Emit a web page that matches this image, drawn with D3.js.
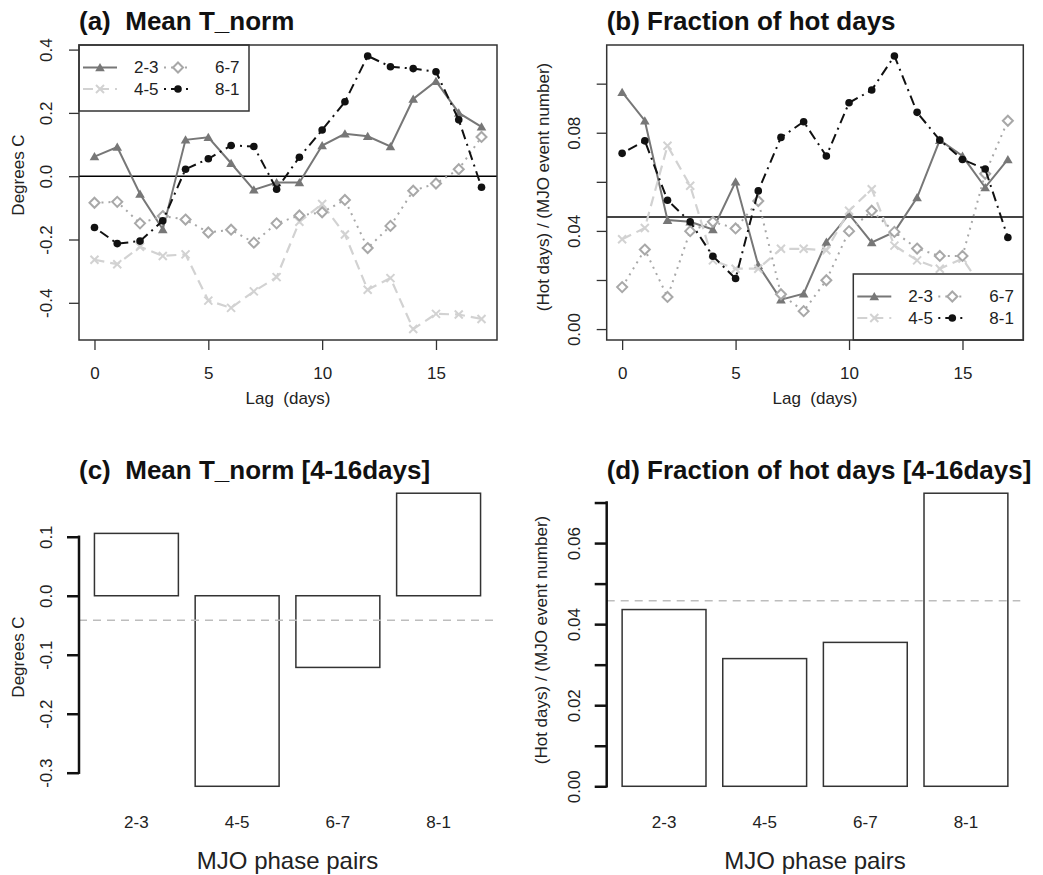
<!DOCTYPE html>
<html>
<head>
<meta charset="utf-8">
<script src="https://cdn.jsdelivr.net/npm/d3@7"></script>
<style>
  body { margin: 0; background: #fff; }
  svg text { font-family: "Liberation Sans", Arial, sans-serif; fill: #222; }
</style>
</head>
<body>
<svg id="fig"></svg>
<script>
// lag axis and MJO phase pairs
const lags = [0, 1, 2, 3, 4, 5, 6, 7, 8, 9, 10, 11, 12, 13, 14, 15, 16, 17];
const pairs = ["2-3", "4-5", "6-7", "8-1"];

// (a) mean T_norm per lag
const meanT_23 = [0.062, 0.092, -0.056, -0.168, 0.115, 0.123, 0.041, -0.043, -0.020, -0.020, 0.097, 0.134, 0.126, 0.094, 0.244, 0.300, 0.200, 0.156];
const meanT_45 = [-0.264, -0.278, -0.223, -0.252, -0.247, -0.393, -0.416, -0.364, -0.319, -0.144, -0.088, -0.184, -0.359, -0.322, -0.483, -0.435, -0.437, -0.451];
const meanT_67 = [-0.084, -0.081, -0.149, -0.126, -0.137, -0.178, -0.169, -0.210, -0.149, -0.124, -0.114, -0.075, -0.227, -0.157, -0.046, -0.023, 0.022, 0.124];
const meanT_81 = [-0.162, -0.213, -0.205, -0.141, 0.022, 0.055, 0.097, 0.094, -0.041, 0.060, 0.146, 0.235, 0.380, 0.346, 0.340, 0.330, 0.178, -0.035];

// (b) fraction of hot days per lag
const hot_23 = [0.0965, 0.0849, 0.0444, 0.0437, 0.0406, 0.0600, 0.0260, 0.0120, 0.0144, 0.0355, 0.0468, 0.0353, 0.0396, 0.0536, 0.0770, 0.0705, 0.0577, 0.0691];
const hot_45 = [0.0366, 0.0412, 0.0747, 0.0584, 0.0280, 0.0246, 0.0246, 0.0327, 0.0327, 0.0321, 0.0482, 0.0570, 0.0340, 0.0280, 0.0246, 0.0287, 0.0150, 0.0080];
const hot_67 = [0.0171, 0.0324, 0.0131, 0.0399, 0.0437, 0.0410, 0.0522, 0.0142, 0.0073, 0.0199, 0.0399, 0.0482, 0.0396, 0.0328, 0.0298, 0.0298, 0.0633, 0.0849];
const hot_81 = [0.0716, 0.0767, 0.0525, 0.0437, 0.0297, 0.0206, 0.0563, 0.0781, 0.0845, 0.0705, 0.0922, 0.0974, 0.1113, 0.0883, 0.0770, 0.0691, 0.0652, 0.0373];
const hotClimo = 0.0457;

// (c), (d) averages over lags 4-16
const barMeanT = [0.1057, -0.323, -0.1215, 0.1738];
const barHot = [0.0436, 0.0315, 0.0355, 0.0723];
const refMeanT = -0.0417;
const refHot = 0.0458;

const svg = d3.select("#fig").attr("width", 1043).attr("height", 875);

const styles = {
  "2-3": { color: "#777777", dash: null, width: 2, shape: "tri" },
  "4-5": { color: "#d2d2d2", dash: "10,6", width: 2.2, shape: "x" },
  "6-7": { color: "#a8a8a8", dash: "2,5", width: 2, shape: "diamond" },
  "8-1": { color: "#111111", dash: "2,5,10,5", width: 2, shape: "dot" }
};

// R style range padding (4%)
function padded(lo, hi) {
  const e = (hi - lo) * 0.04;
  return [lo - e, hi + e];
}

function marker(g, shape, color, x, y) {
  if (shape === "tri") {
    g.append("path").attr("d", d3.symbol(d3.symbolTriangle, 40)())
      .attr("transform", `translate(${x},${y + 1})`).attr("fill", color);
  } else if (shape === "x") {
    g.append("path").attr("d", "M-4,-4L4,4M-4,4L4,-4")
      .attr("transform", `translate(${x},${y})`)
      .attr("stroke", color).attr("stroke-width", 2).attr("fill", "none");
  } else if (shape === "diamond") {
    g.append("path").attr("d", "M0,-5L5,0L0,5L-5,0Z")
      .attr("transform", `translate(${x},${y})`)
      .attr("stroke", color).attr("stroke-width", 2).attr("fill", "#fff");
  } else {
    g.append("circle").attr("cx", x).attr("cy", y).attr("r", 3.8).attr("fill", color);
  }
}

function title(txt, x, y) {
  svg.append("text").attr("x", x).attr("y", y)
    .style("font-size", "26px").style("font-weight", "bold").style("fill", "#111")
    .style("white-space", "pre").text(txt);
}

function yLabel(txt, x, y) {
  svg.append("text").attr("transform", `translate(${x},${y}) rotate(-90)`)
    .attr("text-anchor", "middle").attr("dy", "0.35em")
    .style("font-size", "17px").text(txt);
}

function styleYAxis(g, off) {
  g.attr("color", "#333");
  g.select(".domain").remove();
  g.selectAll(".tick line").attr("stroke-width", 1.3);
  g.selectAll(".tick text")
    .attr("transform", "rotate(-90)")
    .attr("x", 0).attr("y", -off).attr("dy", "0.35em")
    .attr("text-anchor", "middle")
    .style("font-size", "17px");
}

function legend(g, x0, y0) {
  const box = g.append("g").attr("transform", `translate(${x0},${y0})`);
  box.append("rect").attr("width", 170).attr("height", 66)
    .attr("fill", "#fff").attr("stroke", "#333").attr("stroke-width", 1.5);
  const cols = [[4, 38, 55], [85, 113, 136]];
  const order = [["2-3", "4-5"], ["6-7", "8-1"]];
  order.forEach((col, ci) => {
    col.forEach((p, ri) => {
      const s = styles[p];
      const yy = 22.5 + ri * 21.5;
      const [a, b, t] = cols[ci];
      box.append("line").attr("x1", a).attr("x2", b).attr("y1", yy).attr("y2", yy)
        .attr("stroke", s.color).attr("stroke-width", s.width)
        .attr("stroke-dasharray", s.dash);
      marker(box, s.shape, s.color, (a + b) / 2, yy);
      box.append("text").attr("x", t).attr("y", yy).attr("dy", "0.35em")
        .style("font-size", "17px").text(p);
    });
  });
}

function linePanel(p, series, yTicks, yFmt, hline, hColor, legendPos, tl, yl) {
  const x = d3.scaleLinear().domain(padded(0, 17)).range([p.left, p.right]);
  const all = series.flat();
  const lo = p.zeroMin ? 0 : d3.min(all);
  const y = d3.scaleLinear().domain(padded(lo, d3.max(all))).range([p.bottom, p.top]);

  const g = svg.append("g");
  const line = d3.line().x((d, i) => x(lags[i])).y(d => y(d));

  g.append("line").attr("x1", p.left).attr("x2", p.right)
    .attr("y1", y(hline)).attr("y2", y(hline))
    .attr("stroke", hColor).attr("stroke-width", hColor === "#000" ? 1.4 : 2);

  pairs.forEach((pr, k) => {
    const s = styles[pr];
    g.append("path").datum(series[k]).attr("d", line)
      .attr("fill", "none").attr("stroke", s.color).attr("stroke-width", s.width)
      .attr("stroke-dasharray", s.dash);
    series[k].forEach((v, i) => marker(g, s.shape, s.color, x(lags[i]), y(v)));
  });

  legend(g, legendPos[0], legendPos[1]);

  g.append("rect").attr("x", p.left).attr("y", p.top)
    .attr("width", p.right - p.left).attr("height", p.bottom - p.top)
    .attr("fill", "none").attr("stroke", "#333").attr("stroke-width", 1.5);

  svg.append("g").attr("transform", `translate(${p.left},0)`)
    .call(d3.axisLeft(y).tickValues(yTicks).tickSize(10).tickFormat(yFmt))
    .call(ax => styleYAxis(ax, 33));

  svg.append("g").attr("transform", `translate(0,${p.bottom})`)
    .call(d3.axisBottom(x).tickValues([0, 5, 10, 15]).tickSize(10))
    .call(ax => {
      ax.attr("color", "#333");
      ax.select(".domain").remove();
      ax.selectAll(".tick line").attr("stroke-width", 1.3);
      ax.selectAll(".tick text").attr("y", 33).attr("dy", "0.35em").style("font-size", "17px");
    });

  svg.append("text").attr("x", (p.left + p.right) / 2).attr("y", 404)
    .attr("text-anchor", "middle").style("font-size", "17px")
    .style("white-space", "pre").text("Lag  (days)");

  title(tl, p.left, 29.5);
  yLabel(yl[0], yl[1], yl[2]);
}

function barPanel(p, vals, ref, yTicks, yFmt, tl, yl) {
  const x = d3.scaleLinear().domain(padded(0.2, 4.8)).range([p.left, p.right]);
  const y = d3.scaleLinear()
    .domain(padded(Math.min(0, d3.min(vals)), Math.max(0, d3.max(vals))))
    .range([p.bottom, p.top]);

  const g = svg.append("g");
  g.selectAll("rect.bar").data(vals).enter().append("rect")
    .attr("class", "bar")
    .attr("x", (d, i) => x(0.2 + 1.2 * i))
    .attr("width", (d, i) => x(1.2 + 1.2 * i) - x(0.2 + 1.2 * i))
    .attr("y", d => y(Math.max(0, d)))
    .attr("height", d => Math.abs(y(d) - y(0)))
    .attr("fill", "#fff").attr("stroke", "#333").attr("stroke-width", 1.5);

  g.append("line").attr("x1", p.left).attr("x2", p.right - 3)
    .attr("y1", y(ref)).attr("y2", y(ref))
    .attr("stroke", "#bdbdbd").attr("stroke-width", 1.5).attr("stroke-dasharray", "8,6");

  g.selectAll("text.cat").data(pairs).enter().append("text")
    .attr("class", "cat")
    .attr("x", (d, i) => x(0.7 + 1.2 * i)).attr("y", 822).attr("dy", "0.35em")
    .attr("text-anchor", "middle").style("font-size", "17px").text(d => d);

  svg.append("g").attr("transform", `translate(${p.left},0)`)
    .call(d3.axisLeft(y).tickValues(yTicks).tickSize(12).tickFormat(yFmt))
    .call(ax => {
      styleYAxis(ax, 33);
      ax.selectAll(".tick line").attr("stroke-width", 2.5).attr("stroke", "#111");
    });
  svg.append("line").attr("x1", p.left).attr("x2", p.left)
    .attr("y1", y(yTicks[0]) + 1.2).attr("y2", y(yTicks[yTicks.length - 1]) - 1.2)
    .attr("stroke", "#111").attr("stroke-width", 2.5);

  svg.append("text").attr("x", (p.left + p.right) / 2).attr("y", 861).attr("dy", "0.35em")
    .attr("text-anchor", "middle").style("font-size", "24px").text("MJO phase pairs");

  title(tl, p.left, 479);
  yLabel(yl[0], yl[1], yl[2]);
}

const fmt1 = d => d.toFixed(1);

linePanel({ left: 79, right: 497, top: 45, bottom: 340 },
  [meanT_23, meanT_45, meanT_67, meanT_81],
  [-0.4, -0.2, 0, 0.2, 0.4], fmt1, 0, "#000", [79, 45],
  "(a)  Mean T_norm", ["Degrees C", 18, 175]);

linePanel({ left: 606.7, right: 1023.3, top: 45, bottom: 340, zeroMin: true },
  [hot_23, hot_45, hot_67, hot_81],
  [0, 0.02, 0.04, 0.06, 0.08, 0.10],
  d => (Math.round(d * 100) % 4 === 0 ? d.toFixed(2) : ""),
  hotClimo, "#444", [853.3, 274],
  "(b) Fraction of hot days", ["(Hot days) / (MJO event number)", 543, 187]);

barPanel({ left: 79, right: 496, top: 481.5, bottom: 798 },
  barMeanT, refMeanT, [-0.3, -0.2, -0.1, 0, 0.1], fmt1,
  "(c)  Mean T_norm [4-16days]", ["Degrees C", 18, 657]);

barPanel({ left: 606.7, right: 1023.3, top: 481.5, bottom: 798 },
  barHot, refHot, [0, 0.01, 0.02, 0.03, 0.04, 0.05, 0.06, 0.07],
  d => (Math.round(d * 100) % 2 === 0 ? d.toFixed(2) : ""),
  "(d) Fraction of hot days [4-16days]", ["(Hot days) / (MJO event number)", 541, 640]);
</script>
</body>
</html>
